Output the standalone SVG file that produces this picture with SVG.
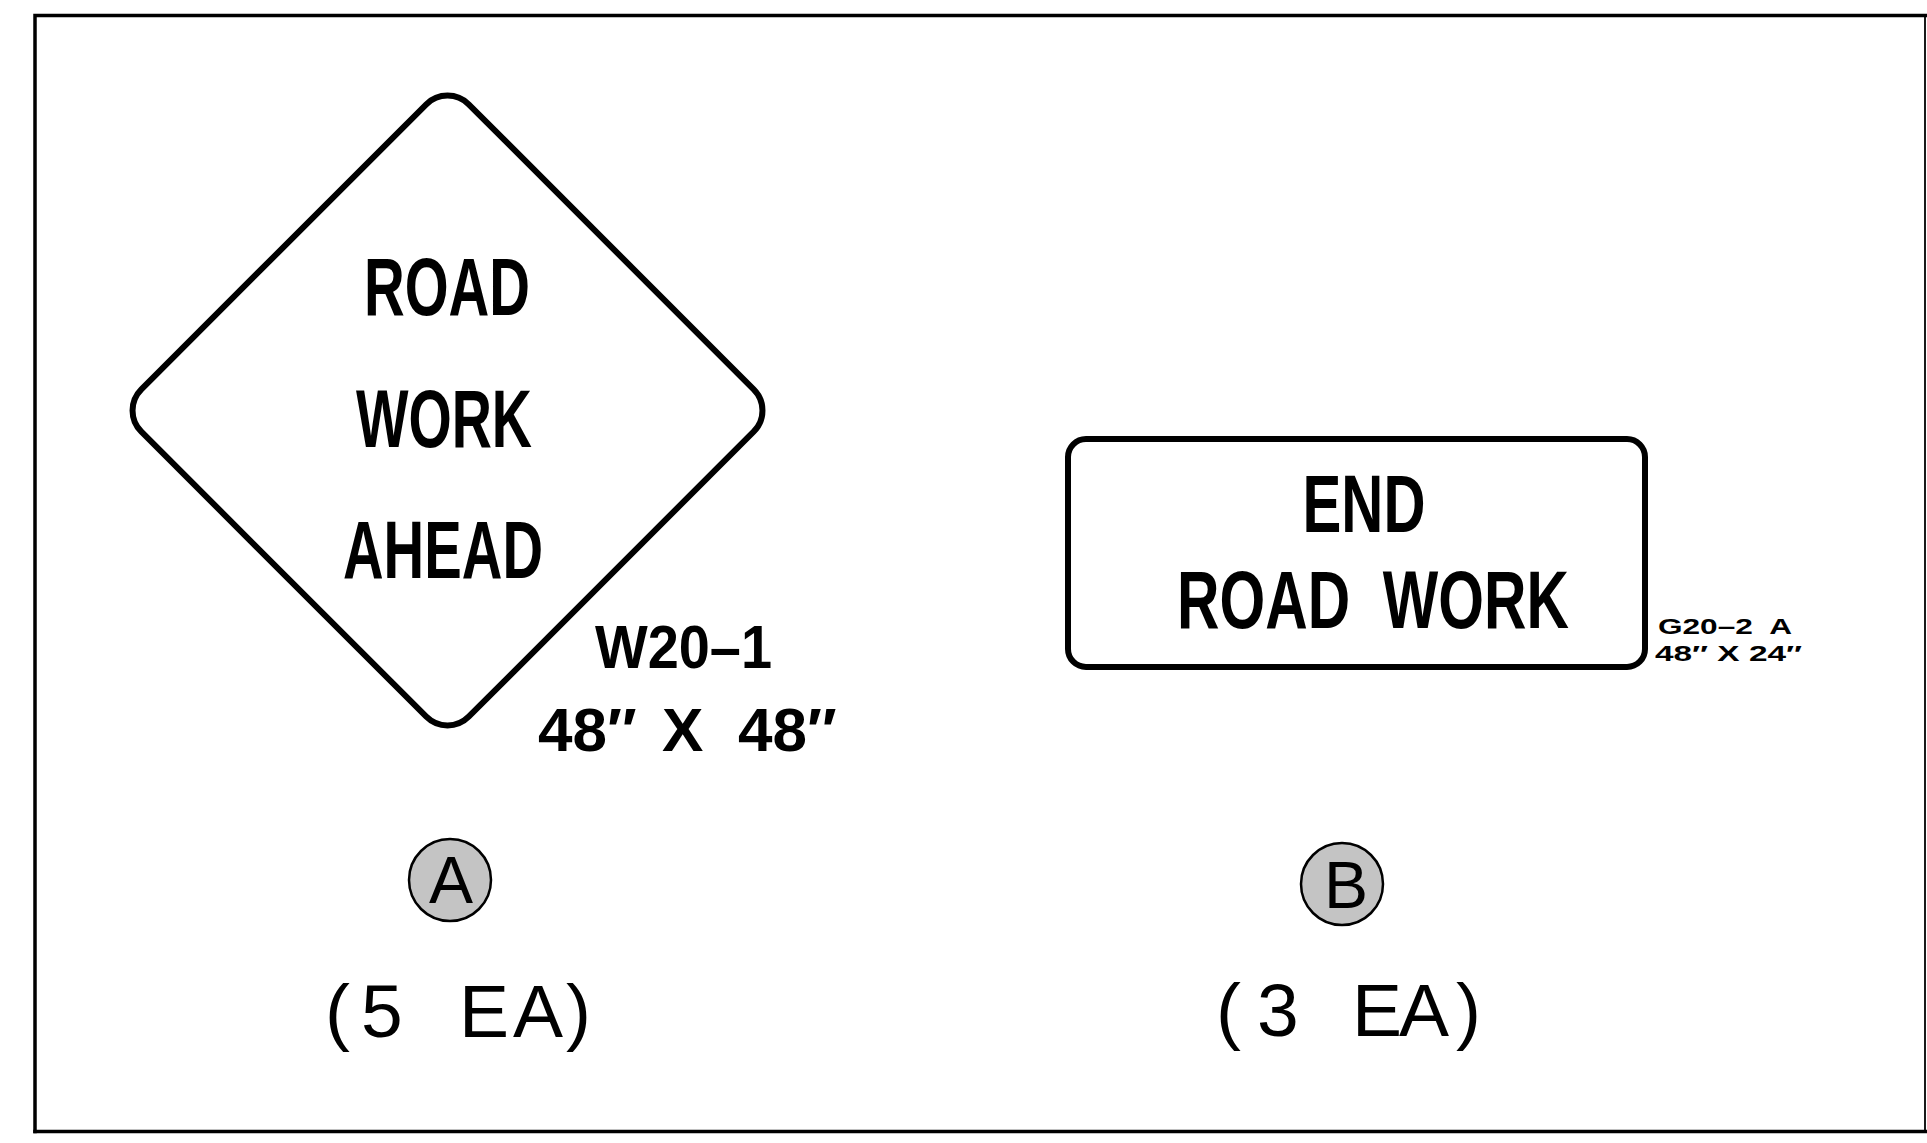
<svg xmlns="http://www.w3.org/2000/svg" width="1927" height="1143" viewBox="0 0 1927 1143">
<style>
.frame{fill:none;stroke:#000;stroke-linecap:square}
.sign{fill:#fff;stroke:#000;stroke-width:6}
.st{font-family:"Liberation Sans",Arial,sans-serif;fill:#000}
.big{font-size:81px;font-weight:bold}
.lbl{font-size:62px;font-weight:bold}
.sm{font-size:22px;font-weight:bold}
.circ{fill:#c4c4c4;stroke:#000;stroke-width:2.5}
.cl{font-size:66px}
.qty{font-size:75px}
</style>
<rect width="1927" height="1143" fill="#fff"/>
<g id="frame">
<path class="frame" d="M35 1131.5 V15.5 H1927" stroke-width="3.5"/>
<path class="frame" d="M35 1131.5 H1927" stroke-width="3.5"/>
<path class="frame" d="M1925 15.5 V1131.5" stroke-width="1.8"/>
</g>
<g id="connectors"></g>
<g id="signA">
<rect class="sign" x="-231.5" y="-231.5" width="463" height="463" rx="30" ry="30" transform="translate(447.5 410.5) rotate(45)"/>
<text class="st big" x="447" y="315" text-anchor="middle" textLength="166" lengthAdjust="spacingAndGlyphs">ROAD</text>
<text class="st big" x="444" y="447" text-anchor="middle" textLength="176" lengthAdjust="spacingAndGlyphs">WORK</text>
<text class="st big" x="443" y="578" text-anchor="middle" textLength="200" lengthAdjust="spacingAndGlyphs">AHEAD</text>
<text class="st lbl" x="595" y="668" textLength="177" lengthAdjust="spacingAndGlyphs">W20–1</text>
<text class="st lbl" y="751"><tspan x="538">48″</tspan><tspan x="662">X</tspan><tspan x="738">48″</tspan></text>
</g>
<g id="signB">
<rect class="sign" x="1068" y="439" width="577" height="228" rx="18" ry="18" stroke-width="6.5"/>
<text class="st big" x="1364" y="532" text-anchor="middle" textLength="123" lengthAdjust="spacingAndGlyphs">END</text>
<text class="st big" x="1373" y="628" text-anchor="middle" textLength="392" lengthAdjust="spacingAndGlyphs" xml:space="preserve">ROAD  WORK</text>
<text class="st sm" x="1658" y="634" textLength="134" lengthAdjust="spacingAndGlyphs" xml:space="preserve">G20–2  A</text>
<text class="st sm" x="1655" y="661" textLength="147" lengthAdjust="spacingAndGlyphs" xml:space="preserve">48″ X 24″</text>
</g>
<g id="labelA">
<circle class="circ" cx="450" cy="880" r="41"/>
<text class="st cl" x="451" y="903" text-anchor="middle">A</text>
<text class="st qty" y="1037"><tspan x="325">(</tspan><tspan x="361">5</tspan><tspan x="459">E</tspan><tspan x="513">A</tspan><tspan x="566">)</tspan></text>
</g>
<g id="labelB">
<circle class="circ" cx="1342" cy="884" r="41"/>
<text class="st cl" x="1346" y="908" text-anchor="middle">B</text>
<text class="st qty" y="1036"><tspan x="1216">(</tspan><tspan x="1257">3</tspan><tspan x="1352">E</tspan><tspan x="1399">A</tspan><tspan x="1456">)</tspan></text>
</g>
</svg>
